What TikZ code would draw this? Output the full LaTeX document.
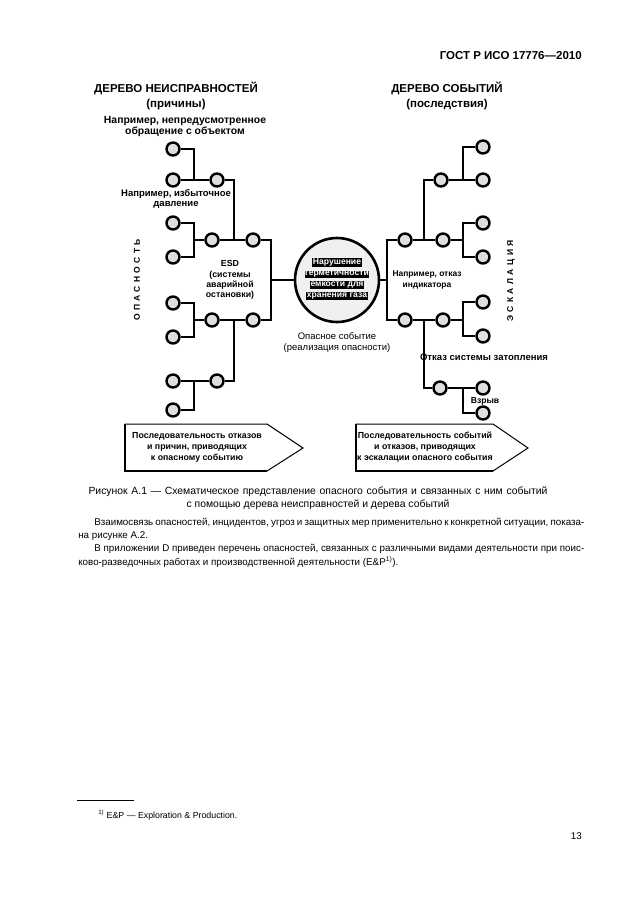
\documentclass[tikz,border=0pt]{standalone}
\usepackage{fontspec}
\setmainfont{Liberation Sans}
\newfontfamily\spaced[LetterSpace=40]{Liberation Sans}
\usepackage{tikz}
\usetikzlibrary{calc, positioning}
\usepackage{xcolor}
\setlength{\fboxsep}{0.5pt}
\newcommand{\inv}[1]{\colorbox{black}{\textcolor{white}{#1}}}

\begin{document}
\begin{tikzpicture}[x=1pt, y=-1pt, line width=2.6pt]
				\tikzstyle{knot} = [line width=2.4pt, draw=black, circle, fill=gray!25, minimum size=13pt, inner sep=0pt]
				\tikzstyle{big} = [line width=2.6pt, draw=black, circle, fill=gray!12, minimum size=84pt, inner sep=0pt]
				\tikzstyle{lbl} = [draw=none, inner sep=0pt, align=center, font=\fontsize{9.5}{10.5}\selectfont\bfseries]
				\tikzstyle{head} = [draw=none, inner sep=0pt, align=center, font=\fontsize{11.5}{15}\selectfont\bfseries]
				\tikzstyle{body} = [draw=none, inner sep=0pt, anchor=west, font=\fontsize{9.8}{13}\selectfont]
				\tikzstyle{pointer} = [line width=1pt, draw=black, fill=white]
				
				\useasboundingbox[fill=white] (0,0) rectangle (630,913);
				
				\node[head, anchor=east]	at (583, 56)	(gost)	{ГОСТ Р ИСО 17776—2010};
				\node[head]		at (176, 96)	(ft)	{ДЕРЕВО НЕИСПРАВНОСТЕЙ\\(причины)};
				\node[head]		at (447, 96)	(et)	{ДЕРЕВО СОБЫТИЙ\\(последствия)};
				\node[lbl, font=\fontsize{10.4}{11}\selectfont\bfseries]
								at (185, 126)	(t1)	{Например, непредусмотренное\\обращение с объектом};
				\node[lbl]		at (176, 199)	(t2)	{Например, избыточное\\давление};
				\node[lbl, font=\fontsize{8.8}{10.3}\selectfont\bfseries]
								at (230, 280)	(t3)	{ESD\\(системы\\аварийной\\остановки)};
				\node[lbl, font=\fontsize{8.4}{10.5}\selectfont\bfseries]
								at (427, 280)	(t4)	{Например, отказ\\индикатора};
				\node[lbl]		at (484, 357)	(t5)	{Отказ системы затопления};
				\node[lbl, font=\fontsize{8.6}{10}\selectfont\bfseries]
								at (485, 401)	(t6)	{Взрыв};
				\node[lbl, font=\fontsize{9.5}{11}\selectfont]
								at (337, 342)	(t7)	{Опасное событие\\(реализация опасности)};
				\node[lbl, rotate=90, font=\fontsize{8.5}{10}\selectfont\bfseries\spaced]
								at (137, 280)	(t8)	{ОПАСНОСТЬ};
				\node[lbl, rotate=90, font=\fontsize{8.5}{10}\selectfont\bfseries\spaced]
								at (511, 281)	(t9)	{ЭСКАЛАЦИЯ};
				
				\node[knot]		at (173, 149)	(l1)	{};
				\node[knot]		at (173, 180)	(l2)	{};
				\node[knot]		at (173, 223)	(l3)	{};
				\node[knot]		at (173, 257)	(l4)	{};
				\node[knot]		at (173, 303)	(l5)	{};
				\node[knot]		at (173, 337)	(l6)	{};
				\node[knot]		at (173, 381)	(l7)	{};
				\node[knot]		at (173, 410)	(l8)	{};
				\node[knot]		at (217, 180)	(a1)	{};
				\node[knot]		at (212, 240)	(a2)	{};
				\node[knot]		at (212, 320)	(a3)	{};
				\node[knot]		at (217, 381)	(a4)	{};
				\node[knot]		at (253, 240)	(b1)	{};
				\node[knot]		at (253, 320)	(b2)	{};
				\node[big]		at (337, 280)	(e)		{};
				\node[lbl, font=\fontsize{8.6}{10.8}\selectfont\bfseries]
								at (337, 279)	(et1)	{\inv{Нарушение}\\\inv{герметичности}\\\inv{емкости для}\\\inv{хранения газа}};
				\node[knot]		at (405, 240)	(c1)	{};
				\node[knot]		at (405, 320)	(c2)	{};
				\node[knot]		at (441, 180)	(d0)	{};
				\node[knot]		at (443, 240)	(d1)	{};
				\node[knot]		at (443, 320)	(d2)	{};
				\node[knot]		at (440, 388)	(d3)	{};
				\node[knot]		at (483, 147)	(r1)	{};
				\node[knot]		at (483, 180)	(r2)	{};
				\node[knot]		at (483, 223)	(r3)	{};
				\node[knot]		at (483, 257)	(r4)	{};
				\node[knot]		at (483, 302)	(r5)	{};
				\node[knot]		at (483, 336)	(r6)	{};
				\node[knot]		at (483, 388)	(r7)	{};
				\node[knot]		at (483, 413)	(r8)	{};
				
				\coordinate (j1) at (194, 180);
				\coordinate (j2) at (194, 240);
				\coordinate (j3) at (194, 320);
				\coordinate (j4) at (194, 381);
				\coordinate (k1) at (234, 240);
				\coordinate (k2) at (234, 320);
				\coordinate (m1) at (271, 280);
				\coordinate (m2) at (387, 280);
				\coordinate (k3) at (424, 240);
				\coordinate (k4) at (424, 320);
				\coordinate (n0) at (463, 180);
				\coordinate (n1) at (463, 240);
				\coordinate (n2) at (463, 320);
				\coordinate (n3) at (463, 388);
				
				\draw (l1) -| (j1);
				\draw (l2) -- (a1);
				\draw (l3) -| (j2) |- (l4);
				\draw (j2) -- (a2);
				\draw (l5) -| (j3) |- (l6);
				\draw (j3) -- (a3);
				\draw (l8) -| (j4);
				\draw (l7) -- (a4);
				\draw (a1) -| (k1);
				\draw (a2) -- (b1);
				\draw (a4) -| (k2);
				\draw (a3) -- (b2);
				\draw (b1) -| (m1) |- (b2);
				\draw (m1) -- (e);
				\draw (e) -- (m2);
				\draw (c1) -| (m2) |- (c2);
				\draw (d0) -| (k3);
				\draw (c1) -- (d1);
				\draw (d3) -| (k4);
				\draw (c2) -- (d2);
				\draw (r1) -| (n0);
				\draw (d0) -- (r2);
				\draw (r3) -| (n1) |- (r4);
				\draw (d1) -- (n1);
				\draw (r5) -| (n2) |- (r6);
				\draw (d2) -- (n2);
				\draw (r8) -| (n3);
				\draw (d3) -- (r7);
				
				\draw[pointer] (125,424) -- (267,424) -- (303,448) -- (267,471) -- (125,471) -- cycle;
				\draw[line width=2pt] (125,424) -- (125,471) -- (267,471);
				\draw[pointer] (356,424) -- (493,424) -- (528,448) -- (493,471) -- (356,471) -- cycle;
				\draw[line width=2pt] (356,424) -- (356,471) -- (493,471);
				\node[lbl, font=\fontsize{8.8}{11}\selectfont\bfseries]
								at (197, 447)	(s1)	{Последовательность отказов\\и причин, приводящих\\к опасному событию};
				\node[lbl, font=\fontsize{8.8}{11}\selectfont\bfseries]
								at (425, 447)	(s2)	{Последовательность событий\\и отказов, приводящих\\к эскалации опасного события};
				
				\node[body, anchor=center, font=\fontsize{10.4}{13}\selectfont] at (318, 492) (cap1) {\makebox[459pt][s]{Рисунок А.1 — Схематическое представление опасного события и связанных с ним событий}};
				\node[body, anchor=center, font=\fontsize{10.4}{13}\selectfont] at (318, 505) (cap2) {с помощью дерева неисправностей и дерева событий};
				\node[body]		at (93, 523)	(p1)	{\makebox[490pt][s]{Взаимосвязь опасностей, инцидентов, угроз и защитных мер применительно к конкретной ситуации, показа-}};
				\node[body]		at (77, 536)	(p2)	{на рисунке А.2.};
				\node[body]		at (93, 549)	(p3)	{\makebox[490pt][s]{В приложении D приведен перечень опасностей, связанных с различными видами деятельности при поис-}};
				\node[body]		at (77, 562)	(p4)	{ково-разведочных работах и производственной деятельности (E\&P\textsuperscript{1)}).};
				
				\draw[line width=0.6pt] (77,800) -- (134,800);
				\node[body, font=\fontsize{8.8}{11}\selectfont]
								at (97, 815)	(fn)	{\textsuperscript{1)} E\&P — Exploration \& Production.};
				\node[body, anchor=east] at (583, 836) (pg) {13};
			\end{tikzpicture}
\end{document}
